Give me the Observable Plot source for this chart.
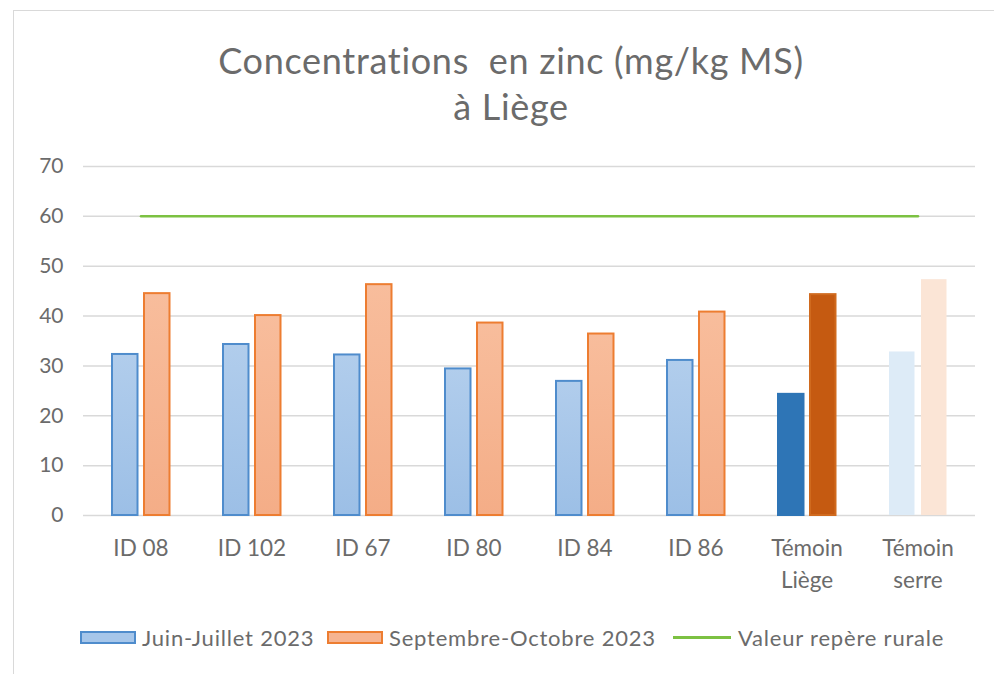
<!DOCTYPE html>
<html>
<head>
<meta charset="utf-8">
<script src="https://cdn.jsdelivr.net/npm/d3@7"></script>
<script src="https://cdn.jsdelivr.net/npm/@observablehq/plot@0.6"></script>
<style>
  html, body { margin: 0; padding: 0; background: #fff; }
  body { width: 994px; height: 674px; position: relative; overflow: hidden; font-family: Lato, "Open Sans", sans-serif; }
  #frame { position: absolute; left: 13px; top: 10px; width: 1000px; height: 700px; border: 1.5px solid #d9d9d9; box-sizing: border-box; }
  .title { position: absolute; left: 0; width: 1022px; text-align: center; color: #6b6b6b; font-size: 36px; letter-spacing: 0.7px; line-height: 43px; }
  #chart { position: absolute; left: 0; top: 140px; }
  #legend { position: absolute; top: 622px; left: 0; width: 994px; height: 30px; font-size: 22px; color: #6b6b6b; letter-spacing: 0.8px; }
  .li { position: absolute; top: 0; display: flex; align-items: center; height: 30px; white-space: nowrap; }
  .sw { display: inline-block; width: 56px; height: 13px; margin-right: 6px; box-sizing: border-box; }
</style>
</head>
<body>
<div id="frame"></div>
<div class="title" style="top:39px;">Concentrations&nbsp; en zinc (mg/kg MS)</div>
<div class="title" style="top:85px;">à Liège</div>
<div id="chart"></div>
<div id="legend">
  <div class="li" style="left:80px;"><span class="sw" style="background:#a6c6ea;border:2px solid #4f8ccc;"></span>Juin-Juillet 2023</div>
  <div class="li" style="left:327px;"><span class="sw" style="background:#f6b491;border:2px solid #ed7d31;"></span>Septembre-Octobre 2023</div>
  <div class="li" style="left:673px;"><span class="sw" style="height:3px;width:58px;background:#7cc142;margin-right:7px;"></span>Valeur repère rurale</div>
</div>
<script>
const categories = ["ID 08", "ID 102", "ID 67", "ID 80", "ID 84", "ID 86", "Témoin\nLiège", "Témoin\nserre"];
const juinJuillet = [32.3, 34.3, 32.2, 29.4, 26.9, 31.1, 24.3, 32.8];
const septOct = [44.5, 40.1, 46.3, 38.6, 36.4, 40.8, 44.3, 47.3];
const valeurRepere = 60;
const yTicks = [0, 10, 20, 30, 40, 50, 60, 70];

const rows1 = categories.map((c, i) => ({cat: c, v: juinJuillet[i], i}));
const rows2 = categories.map((c, i) => ({cat: c, v: septOct[i], i}));
const refRows = categories.map(c => ({cat: c, v: valeurRepere}));

const fill1 = d => d.i === 6 ? "#2e75b6" : d.i === 7 ? "#ddebf7" : "url(#gBlue)";
const stroke1 = d => d.i === 6 ? "#2e75b6" : d.i === 7 ? "none" : "#4f8ccc";
const fill2 = d => d.i === 6 ? "#c55a11" : d.i === 7 ? "#fbe5d6" : "url(#gOrange)";
const stroke2 = d => d.i === 6 ? "#d06a1e" : d.i === 7 ? "none" : "#ed7d31";

const chart = Plot.plot({
  width: 994,
  height: 460,
  marginLeft: 83,
  marginRight: 19,
  marginTop: 26,
  marginBottom: 85,
  style: {fontFamily: "Lato, 'Open Sans', sans-serif", fontSize: "20px", color: "#6b6b6b", background: "transparent", overflow: "visible"},
  x: {domain: categories, padding: 0, label: null},
  y: {domain: [0, 70], label: null},
  marks: [
    Plot.ruleY(yTicks, {stroke: "#d9d9d9", strokeWidth: 1.5}),
    Plot.axisY({ticks: yTicks, tickSize: 0, tickPadding: 20, fontSize: 21, fill: "#6b6b6b", label: null}),
    Plot.axisX({tickSize: 0, tickPadding: 18, fontSize: 22.5, fill: "#6b6b6b", lineHeight: 1.42, label: null}),
    Plot.barY(rows1, {x: "cat", y: "v", fill: fill1, stroke: stroke1, strokeWidth: 2, insetLeft: 27, insetRight: 58.5}),
    Plot.barY(rows2, {x: "cat", y: "v", fill: fill2, stroke: stroke2, strokeWidth: 2, insetLeft: 59, insetRight: 26.5}),
    Plot.lineY(refRows, {x: "cat", y: "v", stroke: "#7cc142", strokeWidth: 2.5})
  ]
});

const ns = "http://www.w3.org/2000/svg";
const defs = document.createElementNS(ns, "defs");
defs.innerHTML = `
  <linearGradient id="gBlue" x1="0" y1="0" x2="0" y2="1">
    <stop offset="0" stop-color="#b1cdec"/><stop offset="1" stop-color="#9cbfe6"/>
  </linearGradient>
  <linearGradient id="gOrange" x1="0" y1="0" x2="0" y2="1">
    <stop offset="0" stop-color="#f8bd9c"/><stop offset="1" stop-color="#f4ad87"/>
  </linearGradient>`;
chart.insertBefore(defs, chart.firstChild);
document.getElementById("chart").appendChild(chart);
</script>
</body>
</html>
